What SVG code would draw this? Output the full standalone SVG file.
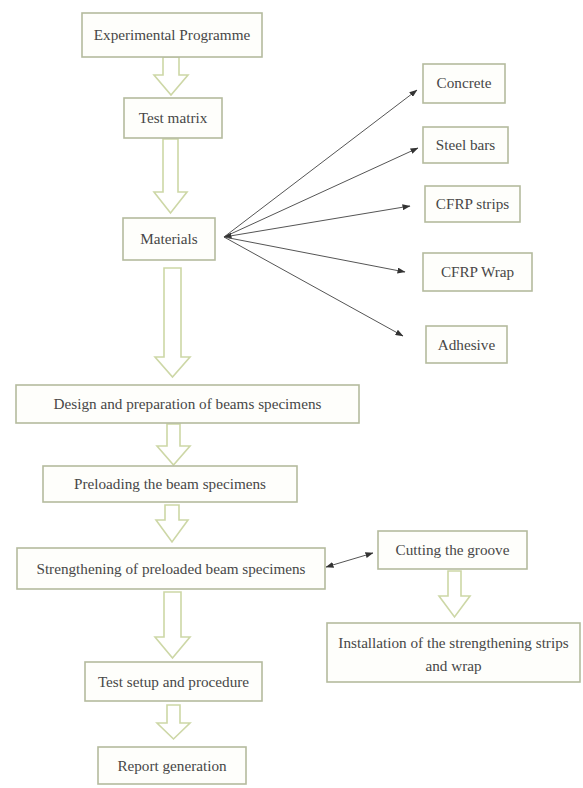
<svg xmlns="http://www.w3.org/2000/svg" width="583" height="788" viewBox="0 0 583 788">
<defs>
<style>
.box{fill:#fefefb;stroke:#b5bb9e;stroke-width:1.6}
.blk{fill:#ffffff;stroke:#cdd7a6;stroke-width:1.6;stroke-linejoin:miter}
.t{font-family:"Liberation Serif","Times New Roman",serif;font-size:15.2px;fill:#474747;text-anchor:middle}
.ln{stroke:#555555;stroke-width:1;fill:none}
</style>
<marker id="ah" viewBox="0 0 8 6" refX="7.5" refY="3" markerWidth="8" markerHeight="6" markerUnits="userSpaceOnUse" orient="auto-start-reverse">
<path d="M0,0 L8,3 L0,6 Z" fill="#333333"/>
</marker>
</defs>
<rect width="583" height="788" fill="#ffffff"/>

<g id="connectors">
<path class="blk" d="M163,57 L179,57 L179,75 L188,75 L171,95 L154,75 L163,75 Z"/>
<path class="blk" d="M163,139 L178,139 L178,192 L187,192 L170.5,213 L154,192 L163,192 Z"/>
<path class="blk" d="M164,268 L181,268 L181,357 L190,357 L172.5,377 L155,357 L164,357 Z"/>
<path class="blk" d="M167,424 L180,424 L180,446 L190,446 L173.5,465 L157,446 L167,446 Z"/>
<path class="blk" d="M165,505 L179,505 L179,520 L188,520 L172,542 L156,520 L165,520 Z"/>
<path class="blk" d="M164,592 L181,592 L181,637 L190,637 L172.5,658 L155,637 L164,637 Z"/>
<path class="blk" d="M167,705 L180,705 L180,723 L190,723 L173.5,739 L157,723 L167,723 Z"/>
<path class="blk" d="M448,571 L461,571 L461,596 L470,596 L454.5,617 L439,596 L448,596 Z"/>
<line class="ln" x1="224" y1="237" x2="417" y2="90" marker-end="url(#ah)"/>
<line class="ln" x1="224" y1="237" x2="418" y2="148" marker-end="url(#ah)"/>
<line class="ln" x1="224" y1="237" x2="410" y2="206" marker-start="url(#ah)" marker-end="url(#ah)"/>
<line class="ln" x1="224" y1="237" x2="405" y2="272" marker-end="url(#ah)"/>
<line class="ln" x1="224" y1="237" x2="403" y2="336" marker-end="url(#ah)"/>
<line class="ln" x1="326" y1="567" x2="373" y2="553" marker-start="url(#ah)" marker-end="url(#ah)"/>
</g>

<g id="experimental-programme"><rect class="box" x="82" y="13" width="180" height="44"/><text class="t" x="172" y="40">Experimental Programme</text></g>
<g id="test-matrix"><rect class="box" x="124" y="98" width="98" height="40"/><text class="t" x="173" y="123">Test matrix</text></g>
<g id="materials"><rect class="box" x="123" y="218" width="92" height="42"/><text class="t" x="169" y="244">Materials</text></g>
<g id="concrete"><rect class="box" x="423" y="64" width="82" height="39"/><text class="t" x="464" y="88">Concrete</text></g>
<g id="steel-bars"><rect class="box" x="423" y="127" width="85" height="36"/><text class="t" x="465.5" y="150">Steel bars</text></g>
<g id="cfrp-strips"><rect class="box" x="425" y="186" width="95" height="36"/><text class="t" x="472.5" y="209">CFRP strips</text></g>
<g id="cfrp-wrap"><rect class="box" x="423" y="253" width="109" height="38"/><text class="t" x="477.5" y="277">CFRP Wrap</text></g>
<g id="adhesive"><rect class="box" x="426" y="326" width="81" height="37"/><text class="t" x="466.5" y="349.5">Adhesive</text></g>
<g id="design"><rect class="box" x="16" y="385" width="343" height="38"/><text class="t" x="187.5" y="409">Design and preparation of beams specimens</text></g>
<g id="preloading"><rect class="box" x="43" y="466" width="254" height="36"/><text class="t" x="170" y="489">Preloading the beam specimens</text></g>
<g id="strengthening"><rect class="box" x="17" y="548" width="308" height="41"/><text class="t" x="171" y="573.5">Strengthening of preloaded beam specimens</text></g>
<g id="cutting-groove"><rect class="box" x="378" y="531" width="149" height="38"/><text class="t" x="452.5" y="555">Cutting the groove</text></g>
<g id="installation"><rect class="box" x="327" y="623" width="253" height="59"/><text class="t" x="453.5" y="648">Installation of the strengthening strips</text><text class="t" x="453.5" y="671">and wrap</text></g>
<g id="test-setup"><rect class="box" x="85" y="662" width="177" height="39"/><text class="t" x="173.5" y="686.5">Test setup and procedure</text></g>
<g id="report"><rect class="box" x="98" y="747" width="148" height="37"/><text class="t" x="172" y="770.5">Report generation</text></g>
</svg>
